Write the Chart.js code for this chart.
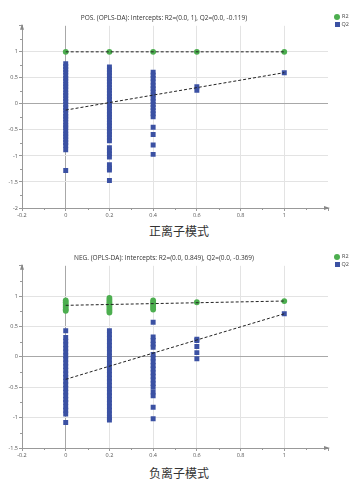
<!DOCTYPE html>
<html>
<head>
<meta charset="utf-8">
<script src="https://cdn.jsdelivr.net/npm/chart.js@4/dist/chart.umd.min.js"></script>
<style>
  body { margin: 0; background: #fff; }
  #page { position: relative; width: 358px; height: 481px; overflow: hidden; font-family: "Open Sans", sans-serif; }
  canvas { position: absolute; left: 0; }
  .cap { position: absolute; left: 0; width: 358px; text-align: center; font-family: "Noto Sans CJK SC", sans-serif; font-size: 12px; line-height: 14px; color: #333; }
  .leg { position: absolute; left: 334px; height: 7px; font-size: 5.5px; line-height: 7px; color: #444; white-space: nowrap; }
  .leg i { display: inline-block; vertical-align: middle; margin-right: 2px; }
  .dot { width: 6px; height: 6px; border-radius: 50%; background: #4cae4f; }
  .sq { width: 5px; height: 5px; margin-left: 0.5px; background: #3b51a3; }
</style>
</head>
<body>
<div id="page">
  <canvas id="posChart" width="358" height="222" style="top:0px"></canvas>
  <div class="leg" style="top:13px"><i class="dot"></i>R2</div>
  <div class="leg" style="top:21px"><i class="sq"></i>Q2</div>
  <div class="cap" style="top:224px">正离子模式</div>

  <canvas id="negChart" width="358" height="222" style="top:240px"></canvas>
  <div class="leg" style="top:253px"><i class="dot"></i>R2</div>
  <div class="leg" style="top:261px"><i class="sq"></i>Q2</div>
  <div class="cap" style="top:466px">负离子模式</div>
</div>
<script>
// permutation positions (x) shared by both plots
var colX = [0, 0.2, 0.4, 0.6, 1];
var lineX = [0, 1];

// POS mode - R2 per column
var posR2 = [[1], [1], [1], [1], [1]];
// POS mode - Q2 per column
var posQ2 = [
  [0.77, 0.72, 0.66, 0.61, 0.55, 0.49, 0.44, 0.38, 0.33, 0.27, 0.21, 0.16, 0.10, 0.05, -0.01, -0.07,
   -0.12, -0.18, -0.24, -0.29, -0.35, -0.41, -0.46, -0.52, -0.58, -0.63, -0.69, -0.74, -0.80, -0.88, -1.28],
  [0.71, 0.65, 0.60, 0.54, 0.48, 0.43, 0.37, 0.31, 0.26, 0.20, 0.14, 0.09, 0.03, -0.03, -0.08, -0.14,
   -0.20, -0.25, -0.31, -0.37, -0.42, -0.48, -0.54, -0.59, -0.65, -0.71, -0.84, -0.90, -0.96, -1.02,
   -1.17, -1.23, -1.27, -1.47],
  [0.61, 0.55, 0.49, 0.42, 0.35, 0.29, 0.23, 0.17, 0.11, 0.05, -0.01, -0.07, -0.13, -0.19, -0.25,
   -0.45, -0.59, -0.79, -0.97],
  [0.33, 0.26],
  [0.6]
];
var posR2Line = [1, 1];
var posQ2Line = [-0.119, 0.6];

// NEG mode - R2 per column
var negR2 = [
  [0.93, 0.90, 0.87, 0.84, 0.81, 0.78, 0.76],
  [0.97, 0.94, 0.91, 0.88, 0.85, 0.82, 0.79, 0.76, 0.73],
  [0.93, 0.90, 0.87, 0.84, 0.81, 0.78],
  [0.90],
  [0.92]
];
// NEG mode - Q2 per column
var negQ2 = [
  [0.43, 0.32, 0.26, 0.20, 0.14, 0.08, 0.02, -0.04, -0.10, -0.16, -0.22, -0.28, -0.34, -0.40, -0.46,
   -0.52, -0.58, -0.64, -0.70, -0.75, -0.82, -0.88, -0.94, -1.08],
  [0.43, 0.37, 0.31, 0.25, 0.19, 0.13, 0.07, 0.01, -0.05, -0.11, -0.17, -0.23, -0.29, -0.35, -0.41,
   -0.47, -0.53, -0.59, -0.64, -0.70, -0.76, -0.82, -0.88, -0.94, -1.00, -1.04],
  [0.57, 0.33, 0.27, 0.21, 0.16, 0.04, -0.02, -0.08, -0.14, -0.20, -0.26, -0.32, -0.38, -0.44, -0.50,
   -0.58, -0.64, -0.83, -1.02],
  [0.29, 0.27, 0.17, 0.07, -0.03],
  [0.71]
];
var negR2Line = [0.849, 0.92];
var negQ2Line = [-0.369, 0.71];

var GREEN = '#4cae4f', BLUE = '#3b51a3';

function toPoints(xs, cols) {
  var pts = [];
  cols.forEach(function(ys, i) {
    ys.forEach(function(y) { pts.push({ x: xs[i], y: y }); });
  });
  return pts;
}

// arrows at the axis ends and the little half-step ticks
var axisDeco = {
  id: 'axisDeco',
  afterDraw: function(chart) {
    var ctx = chart.ctx, a = chart.chartArea, xs = chart.scales.x, ys = chart.scales.y;
    ctx.save();
    ctx.strokeStyle = '#999';
    ctx.lineWidth = 1;
    ctx.beginPath();
    for (var v = xs.min + 0.1; v < xs.max; v += 0.2) {
      var px = Math.round(xs.getPixelForValue(v)) + 0.5;
      ctx.moveTo(px, a.bottom); ctx.lineTo(px, a.bottom + 2);
    }
    for (var w = ys.min + 0.25; w < ys.max; w += 0.5) {
      var py = Math.round(ys.getPixelForValue(w)) + 0.5;
      ctx.moveTo(a.left - 2, py); ctx.lineTo(a.left, py);
    }
    ctx.stroke();
    ctx.fillStyle = '#888';
    ctx.beginPath();
    ctx.moveTo(a.right + 2, a.bottom); ctx.lineTo(a.right - 4, a.bottom - 2); ctx.lineTo(a.right - 4, a.bottom + 2);
    ctx.closePath(); ctx.fill();
    ctx.beginPath();
    ctx.moveTo(a.left, a.top - 2); ctx.lineTo(a.left - 2, a.top + 4); ctx.lineTo(a.left + 2, a.top + 4);
    ctx.closePath(); ctx.fill();
    ctx.restore();
  }
};

function gridColor(c) {
  var v = c.tick.value;
  if (Math.abs(v) < 1e-9) return '#a8a8a8';
  if (v >= c.scale.max - 1e-9) return 'rgba(0,0,0,0)';
  return '#e3e3e3';
}

function buildPermChart(el, title, r2Cols, q2Cols, r2Line, q2Line, yMin) {
  new Chart(document.getElementById(el), {
    type: 'scatter',
    data: {
      datasets: [
        {
          label: 'R2 line', data: toPoints(lineX, r2Line.map(function(v) { return [v]; })),
          showLine: true, borderColor: '#222', borderWidth: 1, borderDash: [3, 2], pointRadius: 0
        },
        {
          label: 'Q2 line', data: toPoints(lineX, q2Line.map(function(v) { return [v]; })),
          showLine: true, borderColor: '#222', borderWidth: 1, borderDash: [3, 2], pointRadius: 0
        },
        {
          label: 'R2', data: toPoints(colX, r2Cols),
          pointStyle: 'circle', pointRadius: 2.9, backgroundColor: GREEN, borderWidth: 0
        },
        {
          label: 'Q2', data: toPoints(colX, q2Cols),
          pointStyle: 'rect', pointRadius: 3.5, backgroundColor: BLUE, borderWidth: 0
        }
      ]
    },
    options: {
      responsive: false,
      animation: false,
      layout: { padding: { left: 0, right: 30, top: 0, bottom: 0 } },
      plugins: {
        legend: { display: false },
        tooltip: { enabled: false },
        title: {
          display: true, text: title, color: '#333',
          font: { family: 'Open Sans', size: 6.5, weight: 'normal', lineHeight: 1.2 },
          padding: { top: 14, bottom: 4 }
        }
      },
      scales: {
        x: {
          type: 'linear', min: -0.2, max: 1.2,
          afterFit: function(s) { s.height = 14; },
          border: { color: '#999' },
          grid: { color: gridColor, tickColor: '#999', tickLength: 3 },
          ticks: {
            stepSize: 0.2, color: '#555', padding: 1, maxRotation: 0,
            font: { family: 'Open Sans', size: 5.5 },
            callback: function(v) { return v > 1.1 ? '' : Math.round(v * 10) / 10; }
          }
        },
        y: {
          type: 'linear', min: yMin, max: 1.5,
          afterFit: function(s) { s.width = 22; },
          border: { color: '#999' },
          grid: { color: gridColor, tickColor: '#999', tickLength: 3 },
          ticks: {
            stepSize: 0.5, color: '#555', padding: 1,
            font: { family: 'Open Sans', size: 5.5 },
            callback: function(v) { return v > 1.4 ? '' : v; }
          }
        }
      }
    },
    plugins: [axisDeco]
  });
}

buildPermChart('posChart', 'POS. (OPLS-DA): Intercepts: R2=(0.0, 1), Q2=(0.0, -0.119)',
  posR2, posQ2, posR2Line, posQ2Line, -2);
buildPermChart('negChart', 'NEG. (OPLS-DA): Intercepts: R2=(0.0, 0.849), Q2=(0.0, -0.369)',
  negR2, negQ2, negR2Line, negQ2Line, -1.5);
</script>
</body>
</html>
